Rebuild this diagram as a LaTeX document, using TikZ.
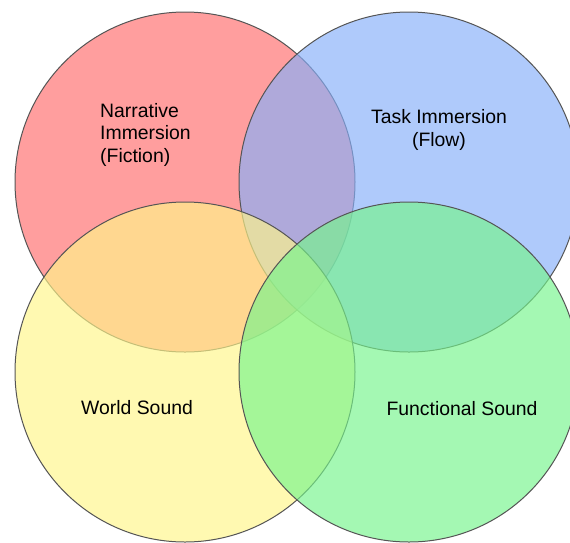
\documentclass[tikz,border=0pt]{standalone}
\usepackage{fontspec}
\setmainfont{Liberation Sans}
\definecolor{cred}{RGB}{255,108,108}
\definecolor{cblue}{RGB}{135,175,250}
\definecolor{cyellow}{RGB}{255,246,138}
\definecolor{cgreen}{RGB}{118,245,140}
\definecolor{cline}{RGB}{85,85,85}
\tikzset{
  venn/.style={circle, minimum size=340pt, inner sep=0pt, draw=cline, line width=1pt, fill opacity=0.66},
  lbl/.style={font=\fontsize{19.4pt}{22.5pt}\selectfont, text=black, inner sep=0pt}
}
\begin{document}
\begin{tikzpicture}[x=1pt,y=-1pt]
\useasboundingbox (0,0) rectangle (570,542);
\clip (0,0) rectangle (570,542);
\fill[white] (0,0) rectangle (570,542);
\node[venn, fill=cred] (red) at (185,182) {};
\node[venn, fill=cblue] (blue) at (409,182) {};
\node[venn, fill=cyellow] (yellow) at (185,372) {};
\node[venn, fill=cgreen] (green) at (409,372) {};
\node[lbl, align=left, anchor=base west] (narr) at (100,162) {Narrative\\Immersion\\(Fiction)};
\node[lbl, align=center, anchor=base] (task) at (439,146) {Task Immersion\\(Flow)};
\node[lbl, anchor=base] (world) at (137,414) {World Sound};
\node[lbl, anchor=base] (func) at (462,415) {Functional Sound};
\end{tikzpicture}
\end{document}
